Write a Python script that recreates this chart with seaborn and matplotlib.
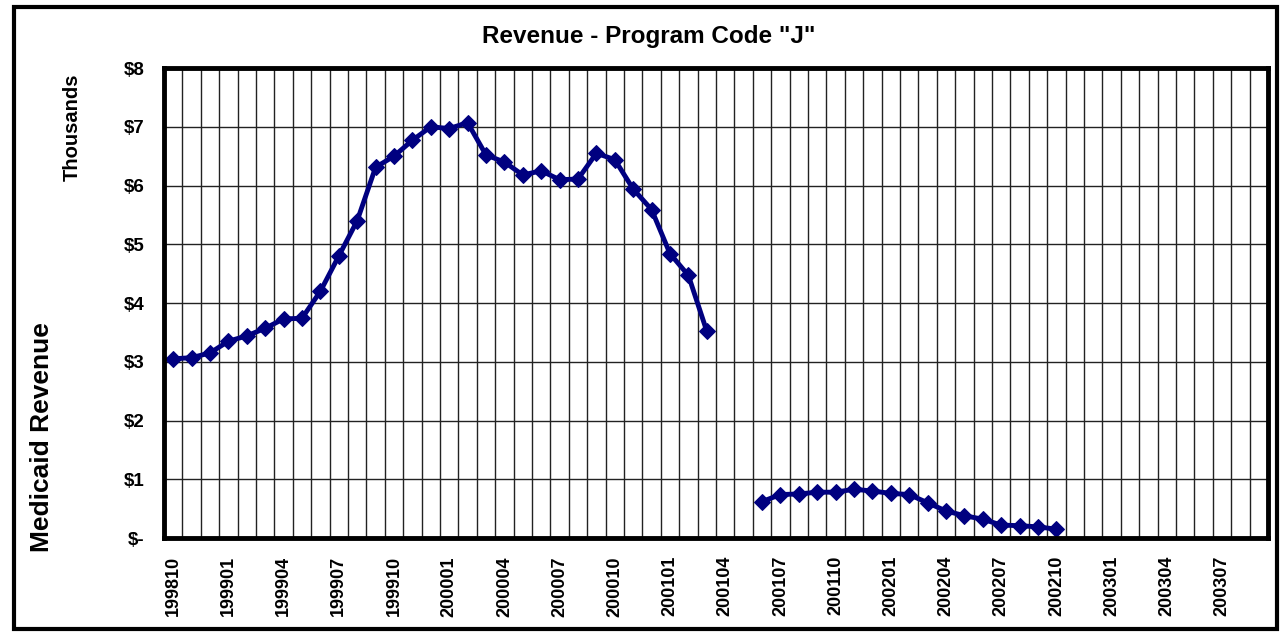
import numpy as np
import pandas as pd
import matplotlib
matplotlib.use("Agg")
import matplotlib.pyplot as plt
from matplotlib.patches import Rectangle
import seaborn as sns

# months shown on the category axis (199810 .. 200309)
months = [f"{1998 + (9 + i) // 12}{(9 + i) % 12 + 1:02d}" for i in range(60)]

# revenue in thousands of dollars
rev_part1 = [3.05, 3.07, 3.15, 3.35, 3.44, 3.57, 3.73, 3.74, 4.20, 4.80,
             5.40, 6.31, 6.50, 6.77, 7.00, 6.97, 7.07, 6.52, 6.40, 6.18,
             6.25, 6.10, 6.11, 6.55, 6.44, 5.94, 5.59, 4.84, 4.47, 3.52]
rev_gap = [np.nan, np.nan]
rev_part2 = [0.62, 0.74, 0.75, 0.78, 0.78, 0.83, 0.80, 0.76, 0.74, 0.60,
             0.46, 0.38, 0.32, 0.22, 0.21, 0.19, 0.15]

revenue = rev_part1 + rev_gap + rev_part2
revenue = revenue + [np.nan] * (len(months) - len(revenue))
segment = [1] * len(rev_part1) + [0] * len(rev_gap) + [2] * (len(months) - len(rev_part1) - len(rev_gap))

y_ticks = [0, 1, 2, 3, 4, 5, 6, 7, 8]
y_labels = ["$-", "$1", "$2", "$3", "$4", "$5", "$6", "$7", "$8"]

df = pd.DataFrame({"pos": range(len(months)), "month": months,
                   "revenue": revenue, "segment": segment}).dropna()

sns.set_style("white")
plt.rcParams["font.family"] = ["Liberation Sans", "DejaVu Sans"]
plt.rcParams["font.weight"] = "bold"
plt.rcParams["text.color"] = "black"
plt.rcParams["xtick.color"] = "black"
plt.rcParams["ytick.color"] = "black"

fig = plt.figure(figsize=(12.85, 6.34), dpi=100)
ax = fig.add_axes([0.1276, 0.1514, 0.8592, 0.7413])

sns.lineplot(data=df, x="pos", y="revenue", units="segment", estimator=None,
             color="#000080", linewidth=3.5, marker="D", markersize=8,
             markeredgecolor="#000080", ax=ax)

ax.set_xlim(-0.5, len(months) - 0.5)
ax.set_ylim(0, 8)

# labels every third month, grid between categories
ax.set_xticks(range(0, len(months), 3))
ax.set_xticklabels(months[::3], rotation=90, fontsize=13, fontweight="bold")
ax.set_xticks(np.arange(-0.5, len(months), 1), minor=True)
ax.tick_params(axis="x", which="major", length=0, pad=13)
ax.tick_params(axis="x", which="minor", length=5, width=1, color="black", direction="out")
ax.grid(True, axis="x", which="minor", color="#222222", linewidth=1)

ax.set_yticks(y_ticks)
ax.set_yticklabels(y_labels, fontsize=13.5, fontweight="bold")
ax.tick_params(axis="y", length=5, width=1, color="black", direction="out", pad=9)
ax.grid(True, axis="y", which="major", color="#222222", linewidth=1)
ax.set_axisbelow(True)

for s in ax.spines.values():
    s.set_visible(True)
    s.set_color("black")
    s.set_linewidth(3.5)

ax.set_xlabel("")
ax.set_ylabel("")

fig.text(0.505, 0.943, 'Revenue - Program Code "J"', ha="center", va="center",
         fontsize=17.5, fontweight="bold")
fig.text(0.056, 0.80, "Thousands", rotation=90, ha="center", va="center",
         fontsize=14.5, fontweight="bold")
fig.text(0.033, 0.311, "Medicaid Revenue", rotation=90, ha="center", va="center",
         fontsize=19, fontweight="bold")

# outer chart frame
fig.patches.append(Rectangle((0.011, 0.008), 0.983, 0.981, transform=fig.transFigure,
                             fill=False, edgecolor="black", linewidth=3, zorder=5))

fig.savefig("out.png", dpi=100)
